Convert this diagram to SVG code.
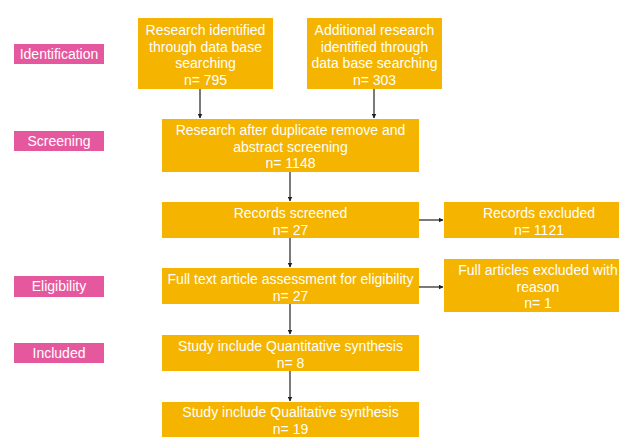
<svg xmlns="http://www.w3.org/2000/svg" width="619" height="437" viewBox="0 0 619 437">
<style>
.box{fill:#F4B400;}
.lab{fill:#E6589E;}
text{font-family:"Liberation Sans",Arial,sans-serif;font-size:14px;fill:#ffffff;text-anchor:middle;}
.con{stroke:#333333;stroke-width:1.3;fill:none;marker-end:url(#ah);}
</style>
<defs>
<marker id="ah" viewBox="0 0 10 10" refX="9" refY="5" markerWidth="5" markerHeight="5" orient="auto" markerUnits="userSpaceOnUse">
<path d="M0,0 L10,5 L0,10 z" fill="#222222"/>
</marker>
</defs>
<rect width="619" height="437" fill="#ffffff"/>
<g id="label-identification"><rect class="lab" x="14" y="44" width="90" height="20"/><text x="59" y="59">Identification</text></g>
<g id="label-screening"><rect class="lab" x="14" y="131" width="90" height="20"/><text x="59" y="146">Screening</text></g>
<g id="label-eligibility"><rect class="lab" x="14" y="276" width="90" height="21"/><text x="59" y="291">Eligibility</text></g>
<g id="label-included"><rect class="lab" x="14" y="343" width="90" height="20"/><text x="59" y="358">Included</text></g>

<g id="n1"><rect class="box" x="138" y="18" width="135" height="71"/>
<text x="205.5" y="35">Research identified</text><text x="205.5" y="52">through data base</text><text x="205.5" y="68">searching</text><text x="205.5" y="85">n= 795</text></g>
<g id="n2"><rect class="box" x="307" y="18" width="135" height="71"/>
<text x="374.5" y="35">Additional research</text><text x="374.5" y="52">identified through</text><text x="374.5" y="68">data base searching</text><text x="374.5" y="85">n= 303</text></g>
<g id="n3"><rect class="box" x="162" y="119" width="257" height="53"/>
<text x="290.5" y="135">Research after duplicate remove and</text><text x="290.5" y="152">abstract screening</text><text x="290.5" y="168">n= 1148</text></g>
<g id="n4"><rect class="box" x="162" y="202" width="257" height="36"/>
<text x="290.5" y="218">Records screened</text><text x="290.5" y="235">n= 27</text></g>
<g id="n5"><rect class="box" x="444" y="202" width="190" height="36"/>
<text x="539" y="218">Records excluded</text><text x="539" y="235">n= 1121</text></g>
<g id="n6"><rect class="box" x="162" y="268" width="257" height="36"/>
<text x="290.5" y="284">Full text article assessment for eligibility</text><text x="290.5" y="301">n= 27</text></g>
<g id="n7"><rect class="box" x="444" y="259" width="190" height="53"/>
<text x="538" y="275">Full articles excluded with</text><text x="538" y="292">reason</text><text x="538" y="308">n= 1</text></g>
<g id="n8"><rect class="box" x="162" y="335" width="257" height="36"/>
<text x="290.5" y="351">Study include Quantitative synthesis</text><text x="290.5" y="368">n= 8</text></g>
<g id="n9"><rect class="box" x="162" y="402" width="257" height="40"/>
<text x="290.5" y="417">Study include Qualitative synthesis</text><text x="290.5" y="434">n= 19</text></g>

<g id="connectors">
<line class="con" x1="200" y1="89" x2="200" y2="118"/>
<line class="con" x1="374" y1="89" x2="374" y2="118"/>
<line class="con" x1="290" y1="172" x2="290" y2="201"/>
<line class="con" x1="290" y1="238" x2="290" y2="267"/>
<line class="con" x1="290" y1="304" x2="290" y2="334"/>
<line class="con" x1="290" y1="371" x2="290" y2="401"/>
<line class="con" x1="419" y1="220" x2="443" y2="220"/>
<line class="con" x1="419" y1="287" x2="443" y2="287"/>
</g>
</svg>
